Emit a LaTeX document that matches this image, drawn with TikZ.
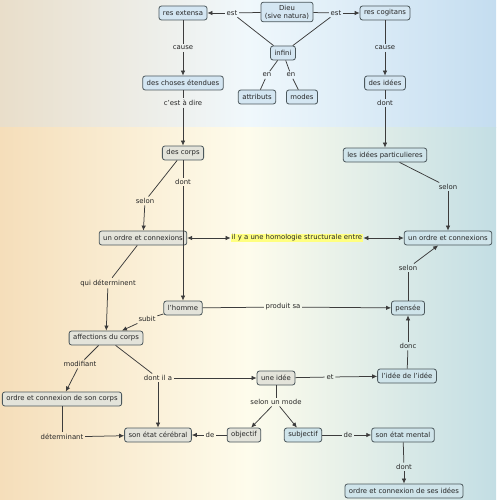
\documentclass[tikz,border=0pt]{standalone}
\usepackage{fontspec}
\setmainfont{DejaVu Sans}
\usepackage{tikz}
\usetikzlibrary{
  % enables the Latex[...] tips
  arrows.meta,%
  calc
}
\definecolor{trait}{HTML}{3C3C3C}
\definecolor{bord}{HTML}{4C585C}
\definecolor{fondbleu}{HTML}{D4E6F2}
\definecolor{fondgris}{HTML}{E3E3DA}
\definecolor{fondvert}{HTML}{CFE4EA}
\definecolor{surligne}{HTML}{FFFF80}
\definecolor{hautg}{RGB}{233,222,202}
\definecolor{hautm}{RGB}{240,248,252}
\definecolor{hautd}{RGB}{196,221,240}
\definecolor{basg}{RGB}{245,222,186}
\definecolor{basm}{RGB}{254,252,236}
\definecolor{basd}{RGB}{195,222,228}
\tikzset{>={Latex[length=5pt,width=4.5pt]}}
\tikzset{font=\fontsize{6.9}{8.3}\selectfont}
\tikzset{concept/.style={draw=bord, line width=0.8pt, rounded corners=2.5pt,
    inner xsep=4pt, inner ysep=2.6pt, minimum height=14pt, align=center, text=black!85}}
\tikzset{haut/.style={concept, fill=fondbleu},
  gauche/.style={concept, fill=fondgris},
  droite/.style={concept, fill=fondvert}}
\tikzset{lien/.style={inner sep=1.6pt, text=black!85}}
\tikzset{fil/.style={trait, line width=0.75pt}}

\begin{document}
\begin{tikzpicture}[x=1pt, y=-1pt]
  \useasboundingbox (0,0) rectangle (496,500);
  % fond
  \shade[left color=hautg, right color=hautd, middle color=hautm] (0,0) rectangle (496,127);
  \shade[left color=basg, right color=basd, middle color=basm] (0,127) rectangle (496,500);

  % concepts
  \node[haut] (dieu) at (287,12) {Dieu\\(sive natura)};
  \node[haut] (resext) at (183,13) {res extensa};
  \node[haut] (rescog) at (385,13) {res cogitans};
  \node[haut] (infini) at (283,53) {infini};
  \node[haut] (attr) at (257,97) {attributs};
  \node[haut] (modes) at (302,97) {modes};
  \node[haut] (choses) at (183,83) {des choses étendues};
  \node[haut] (idees) at (385,83) {des idées};
  \node[gauche] (corps) at (183,153) {des corps};
  \node[droite] (partic) at (385,155) {les idées particulieres};
  \node[gauche] (ordreg) at (143,238) {un ordre et connexions};
  \node[droite] (ordred) at (448,238) {un ordre et connexions};
  \node[gauche] (homme) at (183,308) {l'homme};
  \node[droite] (pensee) at (408,308) {pensée};
  \node[gauche] (affect) at (106,338) {affections du corps};
  \node[droite] (ideeidee) at (407,376) {l'idée de l'idée};
  \node[gauche] (uneidee) at (276,378) {une idée};
  \node[gauche] (ocorps) at (62,399) {ordre et connexion de son corps};
  \node[gauche] (cerebral) at (158,435) {son état cérébral};
  \node[gauche] (objectif) at (244,435) {objectif};
  \node[droite] (subjectif) at (303,435) {subjectif};
  \node[droite] (mental) at (403,435) {son état mental};
  \node[droite] (oidees) at (404,491) {ordre et connexion de ses idées};

  % mots de liaison
  \node[lien] (est1) at (232,13) {est};
  \node[lien] (est2) at (336,13) {est};
  \node[lien] (en1) at (267,75) {en};
  \node[lien] (en2) at (291,75) {en};
  \node[lien] (cause1) at (183,48) {cause};
  \node[lien] (cause2) at (385,48) {cause};
  \node[lien] (cad) at (183,103) {c'est à dire};
  \node[lien] (dont1) at (385,103) {dont};
  \node[lien] (selon1) at (145,201) {selon};
  \node[lien] (dont2) at (183,182) {dont};
  \node[lien] (selon2) at (448,187) {selon};
  \node[lien, fill=surligne, inner sep=1pt] (homol) at (297,238) {il y a une homologie structurale entre};
  \node[lien] (qui) at (108,283) {qui déterminent};
  \node[lien] (subit) at (147,319) {subit};
  \node[lien] (produit) at (283,307) {produit sa};
  \node[lien] (selon3) at (408,268) {selon};
  \node[lien] (donc) at (408,346) {donc};
  \node[lien] (modif) at (80,364) {modifiant};
  \node[lien] (dontila) at (158,378) {dont il a};
  \node[lien] (et) at (330,377) {et};
  \node[lien] (mode) at (276,402) {selon un mode};
  \node[lien] (determ) at (62,437) {déterminant};
  \node[lien] (de1) at (210,435) {de};
  \node[lien] (de2) at (348,435) {de};
  \node[lien] (dont3) at (404,467) {dont};

  % liens
  \draw[fil] (dieu) -- (est1);
  \draw[fil, ->] (est1) -- (resext);
  \draw[fil] (dieu) -- (est2);
  \draw[fil, ->] (est2) -- (rescog);
  \draw[fil] (est1) -- (infini);
  \draw[fil] (est2) -- (infini);
  \draw[fil] (infini) -- (en1) -- (attr);
  \draw[fil] (infini) -- (en2) -- (modes);
  \draw[fil] (resext) -- (cause1);
  \draw[fil, ->] (cause1) -- (choses);
  \draw[fil] (rescog) -- (cause2);
  \draw[fil, ->] (cause2) -- (idees);
  \draw[fil] (choses) -- (cad);
  \draw[fil, ->] (cad) -- (corps);
  \draw[fil] (idees) -- (dont1);
  \draw[fil, ->] (dont1) -- (partic);
  \draw[fil] (corps) -- (selon1);
  \draw[fil, ->] (selon1) -- (ordreg);
  \draw[fil] (corps) -- (dont2);
  \draw[fil, ->] (dont2) -- (homme);
  \draw[fil] (partic) -- (selon2);
  \draw[fil, ->] (selon2) -- (ordred);
  \draw[fil, <->] (ordreg) -- (homol);
  \draw[fil, <->] (homol) -- (ordred);
  \draw[fil] (ordreg) -- (qui);
  \draw[fil, ->] (qui) -- (affect);
  \draw[fil] (homme) -- (subit);
  \draw[fil, ->] (subit) -- (affect);
  \draw[fil] (homme) -- (produit);
  \draw[fil, ->] (produit) -- (pensee);
  \draw[fil] (pensee) -- (selon3);
  \draw[fil, ->] (selon3) -- (ordred);
  \draw[fil] (ideeidee) -- (donc);
  \draw[fil, ->] (donc) -- (pensee);
  \draw[fil] (affect) -- (modif);
  \draw[fil, ->] (modif) -- (ocorps);
  \draw[fil] (affect) -- (dontila);
  \draw[fil, ->] (dontila) -- (uneidee);
  \draw[fil, ->] (dontila) -- (cerebral);
  \draw[fil] (uneidee) -- (et);
  \draw[fil, ->] (et) -- (ideeidee);
  \draw[fil] (uneidee) -- (mode);
  \draw[fil, ->] (mode) -- (objectif);
  \draw[fil, ->] (mode) -- (subjectif);
  \draw[fil] (ocorps) -- (determ);
  \draw[fil, ->] (determ) -- (cerebral);
  \draw[fil] (objectif) -- (de1);
  \draw[fil, ->] (de1) -- (cerebral);
  \draw[fil] (subjectif) -- (de2);
  \draw[fil, ->] (de2) -- (mental);
  \draw[fil] (mental) -- (dont3);
  \draw[fil, ->] (dont3) -- (oidees);
\end{tikzpicture}
\end{document}
